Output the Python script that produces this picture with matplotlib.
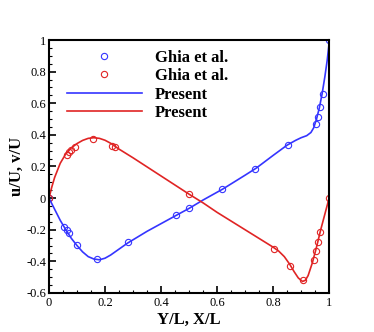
import numpy as np
import matplotlib
matplotlib.use("Agg")
import matplotlib.pyplot as plt
from matplotlib.ticker import MultipleLocator, FuncFormatter

# Ghia et al. (Re=1000) - u along vertical centreline
ghia_y = [1.0, 0.9766, 0.9688, 0.9609, 0.9531, 0.8516, 0.7344, 0.6172, 0.5,
          0.4531, 0.2813, 0.1719, 0.1016, 0.0703, 0.0625, 0.0547, 0.0]
ghia_u = [1.0, 0.65928, 0.57492, 0.51117, 0.46604, 0.33304, 0.18719, 0.05702,
          -0.0608, -0.10648, -0.27805, -0.38289, -0.2973, -0.2222, -0.20196,
          -0.18109, 0.0]

# Ghia et al. - v along horizontal centreline
ghia_x = [1.0, 0.9688, 0.9609, 0.9531, 0.9453, 0.9063, 0.8594, 0.8047, 0.5,
          0.2344, 0.2266, 0.1563, 0.0938, 0.0781, 0.0703, 0.0625, 0.0]
ghia_v = [0.0, -0.21388, -0.27669, -0.33714, -0.39188, -0.5155, -0.42665,
          -0.31966, 0.02526, 0.32235, 0.33075, 0.37095, 0.32627, 0.30353,
          0.29012, 0.27485, 0.0]

# present results
pres_y = [0.0, 0.01, 0.02, 0.04, 0.06, 0.08, 0.10, 0.12, 0.14, 0.16, 0.18,
          0.20, 0.22, 0.24, 0.28, 0.35, 0.45, 0.50, 0.55, 0.62, 0.70, 0.74,
          0.80, 0.85, 0.88, 0.90, 0.92, 0.935, 0.945, 0.955, 0.965, 0.975,
          0.985, 0.993, 1.0]
pres_u = [0.0, -0.035, -0.07, -0.14, -0.20, -0.255, -0.30, -0.34, -0.37,
          -0.385, -0.39, -0.38, -0.36, -0.335, -0.285, -0.21, -0.113, -0.065,
          -0.012, 0.057, 0.145, 0.19, 0.27, 0.335, 0.365, 0.382, 0.395, 0.415,
          0.445, 0.50, 0.57, 0.66, 0.77, 0.87, 0.98]

pres_x = [0.0, 0.01, 0.02, 0.04, 0.06, 0.08, 0.10, 0.12, 0.14, 0.16, 0.18,
          0.20, 0.22, 0.25, 0.30, 0.40, 0.50, 0.55, 0.60, 0.70, 0.80, 0.82,
          0.84, 0.86, 0.875, 0.89, 0.905, 0.915, 0.925, 0.94, 0.955, 0.97,
          0.985, 1.0]
pres_v = [0.0, 0.07, 0.13, 0.22, 0.28, 0.318, 0.345, 0.365, 0.378, 0.382,
          0.378, 0.366, 0.347, 0.31, 0.255, 0.14, 0.025, -0.03, -0.09, -0.20,
          -0.31, -0.335, -0.37, -0.42, -0.465, -0.505, -0.527, -0.52, -0.49,
          -0.41, -0.31, -0.20, -0.10, 0.0]

plt.rcParams['font.family'] = ['Liberation Serif', 'DejaVu Serif']
plt.rcParams['axes.unicode_minus'] = False

blue = '#3535ff'
red = '#e02424'

fig = plt.figure(figsize=(3.74, 3.32), dpi=100)
ax = fig.add_axes([0.131, 0.1175, 0.749, 0.762])

ax.plot(ghia_y, ghia_u, 'o', mfc='none', mec=blue, ms=4.5, mew=0.8,
        label='Ghia et al.')
ax.plot(ghia_x, ghia_v, 'o', mfc='none', mec=red, ms=4.5, mew=0.8,
        label='Ghia et al.')
ax.plot(pres_y, pres_u, '-', color=blue, lw=1.2, label='Present')
ax.plot(pres_x, pres_v, '-', color=red, lw=1.2, label='Present')

ax.set_xlim(0, 1)
ax.set_ylim(-0.6, 1)
ax.xaxis.set_major_locator(MultipleLocator(0.2))
ax.xaxis.set_minor_locator(MultipleLocator(0.05))
ax.yaxis.set_major_locator(MultipleLocator(0.2))
ax.yaxis.set_minor_locator(MultipleLocator(0.05))
fmt = FuncFormatter(lambda v, p: '%g' % round(v, 2))
ax.xaxis.set_major_formatter(fmt)
ax.yaxis.set_major_formatter(fmt)
ax.tick_params(which='both', direction='in', labelsize=9, top=False, right=False)
ax.tick_params(which='major', length=5, width=1.2)
ax.tick_params(which='minor', length=2.5, width=0.8)
ax.tick_params(axis='x', which='major', pad=3)
ax.tick_params(axis='y', which='major', pad=2)
for s in ax.spines.values():
    s.set_linewidth(1.5)

ax.set_xlabel('Y/L, X/L', fontsize=12, fontweight='bold', labelpad=2)
ax.set_ylabel('u/U, v/U', fontsize=12, fontweight='bold', labelpad=1)

leg = ax.legend(loc='upper left', bbox_to_anchor=(0.064, 0.962), frameon=False,
                borderpad=0, borderaxespad=0, numpoints=1, handlelength=4.5,
                handletextpad=0.8, labelspacing=0.15,
                prop={'size': 12, 'weight': 'bold'})

fig.savefig('out.png', dpi=100)
